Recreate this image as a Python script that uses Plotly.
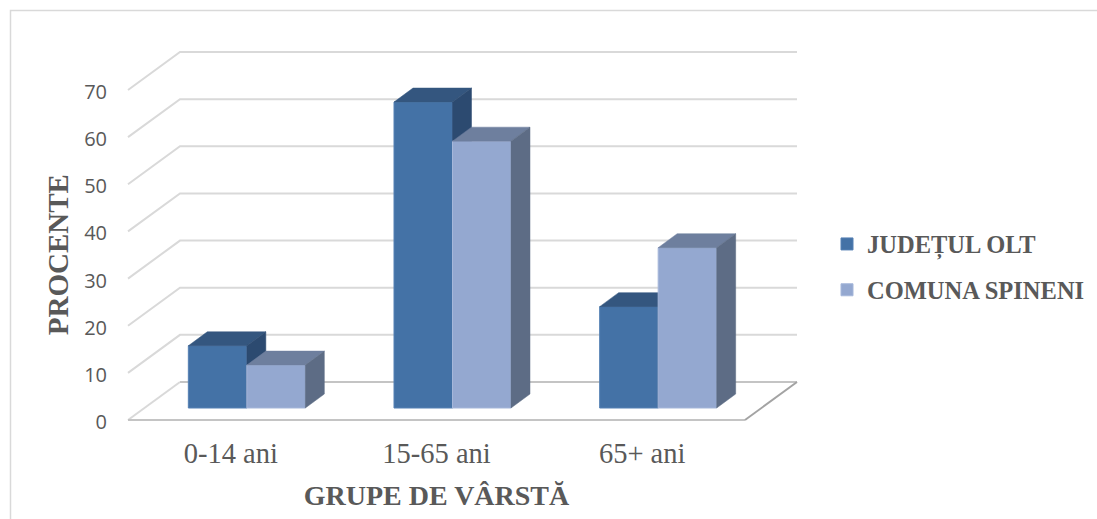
import plotly.graph_objects as go

CATEGORIES = ["0-14 ani", "15-65 ani", "65+ ani"]
JUDETUL_OLT = [13.2, 64.9, 21.5]
COMUNA_SPINENI = [9.1, 56.6, 34.0]
Y_TICKS = [0, 10, 20, 30, 40, 50, 60, 70]

W, H = 1097, 519
# front plane of the chart, in reference pixels
FL, FR, FT, FB = 128, 745, 90, 420
# drawing area, in reference pixels (holds the depth of the walls)
AL, AR, AT, AB = 120, 800, 40, 425
PX_X = (FR - FL) / 3
PX_Y = (FB - FT) / 70
WALL_DX, WALL_DY = 52 / PX_X, 38 / PX_Y
BAR_SHIFT_X, BAR_SHIFT_Y = 16 / PX_X, 12 / PX_Y
BAR_DX, BAR_DY = 19 / PX_X, 14 / PX_Y
BAR_W = 58.5 / PX_X
TEXT = "#595959"
SERIF = "Liberation Serif"
SANS = "Open Sans"

X0 = -0.5 - (FL - AL) / PX_X
X1 = 2.5 + (AR - FR) / PX_X
Y0 = -(AB - FB) / PX_Y
Y1 = 70 + (FT - AT) / PX_Y

fig = go.Figure()


def line(xs, ys, color, width):
    fig.add_trace(go.Scatter(x=xs, y=ys, mode="lines", line=dict(color=color, width=width),
                             hoverinfo="skip", showlegend=False, xaxis="x", yaxis="y"))


# wall gridlines
for v in Y_TICKS[1:]:
    line([-0.5, -0.5 + WALL_DX, 2.5 + WALL_DX], [v, v + WALL_DY, v + WALL_DY], "#d9d9d9", 2)
# floor
line([-0.5, -0.5 + WALL_DX], [0, WALL_DY], "#d9d9d9", 2)
line([-0.5 + WALL_DX, 2.5 + WALL_DX], [WALL_DY, WALL_DY], "#c4c4c4", 2)
line([-0.5, 2.5], [0, 0], "#c4c4c4", 2)
line([2.5, 2.5 + WALL_DX], [0, WALL_DY], "#a3a3a3", 2)


def series(name, values, offset, front, edge, top, side, xa, ya, rank):
    fig.add_trace(go.Bar(name=name, x=list(range(len(values))), y=values, width=BAR_W, offset=offset,
                         marker=dict(color=front, line=dict(color=edge, width=1)),
                         legendgroup=name, legendrank=rank,
                         xaxis=xa, yaxis=ya, hoverinfo="x+y"))
    for i, v in enumerate(values):
        x0 = i + offset
        x1 = x0 + BAR_W
        fig.add_trace(go.Scatter(
            x=[x0, x0 + BAR_DX, x1 + BAR_DX, x1, x0],
            y=[v, v + BAR_DY, v + BAR_DY, v, v],
            fill="toself", fillcolor=top, mode="lines", line=dict(color=top, width=0.5),
            hoverinfo="skip", showlegend=False, xaxis=xa, yaxis=ya))
        fig.add_trace(go.Scatter(
            x=[x1, x1 + BAR_DX, x1 + BAR_DX, x1, x1],
            y=[v, v + BAR_DY, BAR_DY, 0, v],
            fill="toself", fillcolor=side, mode="lines", line=dict(color=side, width=0.5),
            hoverinfo="skip", showlegend=False, xaxis=xa, yaxis=ya))


series("JUDEȚUL OLT", JUDETUL_OLT, -BAR_W, "#4472a6", "#5580b4", "#34567f", "#2c4a70", "x2", "y2", 1)
series("COMUNA SPINENI", COMUNA_SPINENI, 0, "#94a8d0", "#a5b7da", "#6e7f9e", "#5d6c85", "x3", "y3", 2)

# empty trace that carries the visible axes with their ticks and titles
fig.add_trace(go.Scatter(x=[None], y=[None], mode="lines", showlegend=False, hoverinfo="skip",
                         xaxis="x4", yaxis="y4"))

bar_x = dict(range=[X0 - BAR_SHIFT_X, X1 - BAR_SHIFT_X], overlaying="x", visible=False, domain=[0, 1])
bar_y = dict(range=[Y0 - BAR_SHIFT_Y, Y1 - BAR_SHIFT_Y], overlaying="y", visible=False, domain=[0, 1])


def px(p):
    return (p - AL) / (AR - AL)


def py(p):
    return (AB - p) / (AB - AT)


fig.update_layout(
    width=W, height=H,
    margin=dict(l=AL, r=W - AR, t=AT, b=H - AB, pad=0, autoexpand=False),
    paper_bgcolor="white", plot_bgcolor="rgba(0,0,0,0)",
    barmode="overlay",
    xaxis=dict(range=[X0, X1], visible=False, domain=[0, 1]),
    yaxis=dict(range=[Y0, Y1], visible=False, domain=[0, 1]),
    xaxis2=bar_x, yaxis2=bar_y, xaxis3=bar_x, yaxis3=bar_y,
    xaxis4=dict(range=[-0.5, 2.5], domain=[px(FL), px(FR)], anchor="y4", tickmode="array",
                tickvals=[0, 1, 2], ticktext=CATEGORIES,
                showgrid=False, zeroline=False, showline=False, ticks="",
                ticklabelstandoff=11,
                tickfont=dict(family=SERIF, size=28.5, color=TEXT),
                title=dict(text="<b>GRUPE DE VÂRSTĂ</b>", standoff=17,
                           font=dict(family=SERIF, size=28, color=TEXT))),
    yaxis4=dict(range=[0, 71], domain=[py(FB + 2), py(FT + 2 - PX_Y)], anchor="x4", tickmode="array",
                tickvals=Y_TICKS,
                showgrid=False, zeroline=False, showline=False, ticks="",
                ticklabelstandoff=20,
                tickfont=dict(family=SANS, size=20, color=TEXT),
                title=dict(text="<b>PROCENTE</b>", standoff=6,
                           font=dict(family=SERIF, size=29, color=TEXT))),
    legend=dict(x=px(827), y=py(267), xanchor="left", yanchor="middle", tracegroupgap=11,
                bgcolor="rgba(0,0,0,0)",
                font=dict(family=SERIF, size=24.5, color=TEXT, weight="bold")),
    shapes=[dict(type="path", xref="paper", yref="paper", layer="below",
                 path=f"M {px(10.5)} {py(519)} L {px(10.5)} {py(10.5)} L {px(1097)} {py(10.5)}",
                 line=dict(color="#d9d9d9", width=1.5))],
)

# the browser's default page margin would otherwise shift the figure
fig.write_html("out.html", config={"displayModeBar": False},
               post_script="document.body.style.margin='0';")
